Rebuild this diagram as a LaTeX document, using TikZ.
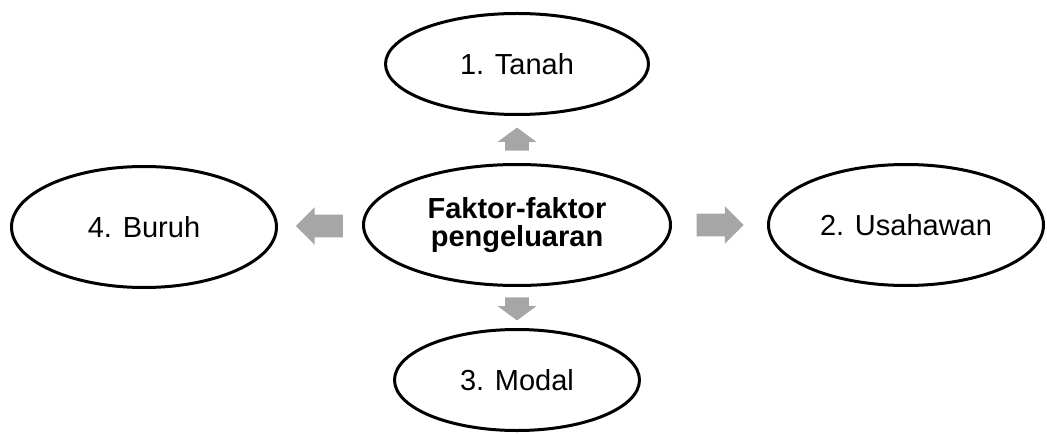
\documentclass[tikz,border=0pt]{standalone}
\usepackage{fontspec}
\setmainfont{Liberation Sans}
\usetikzlibrary{calc,positioning,shapes.geometric,shapes.arrows}

\begin{document}
\begin{tikzpicture}[x=0.5pt,y=0.5pt,
    factor/.style={draw,ellipse,line width=1.5pt,inner sep=0pt,align=center,font=\fontsize{14.5pt}{14pt}\selectfont},
    flow/.style={single arrow,fill=gray!70,draw=none,inner xsep=0pt,inner ysep=5.5pt,single arrow head extend=3.75pt}]
    \useasboundingbox (0,0) rectangle (1047,434);
    \node[factor,minimum width=153.5pt,minimum height=60.5pt,font=\fontsize{14.5pt}{14pt}\selectfont\bfseries] (pusat) at (517,209) {Faktor-faktor\\pengeluaran};
    \node[factor,minimum width=131.5pt,minimum height=50.5pt] (tanah) at (517,370) {1. Tanah};
    \node[factor,minimum width=137.5pt,minimum height=60.5pt] (usahawan) at (906,209) {2. Usahawan};
    \node[factor,minimum width=122.5pt,minimum height=50.5pt] (modal) at (517,54) {3. Modal};
    \node[factor,minimum width=132.5pt,minimum height=60.5pt] (buruh) at (144,207) {4. Buruh};
    %anak panah
    \node[flow,minimum height=11.5pt,inner ysep=5.75pt,single arrow tip angle=107,rotate=90] (p1) at ($(pusat.north)!0.5!(tanah.south)+(0,-4)$) {};
    \node[flow,minimum height=23.5pt] (p2) at ($(pusat.east)!0.5!(usahawan.west)+(-5,0)$) {};
    \node[flow,minimum height=11.5pt,inner ysep=5.75pt,single arrow tip angle=107,rotate=-90] (p3) at ($(pusat.south)!0.5!(modal.north)+(0,3)$) {};
    \node[flow,minimum height=23.5pt,rotate=180] (p4) at ($(pusat.west)!0.5!(buruh.east)+(5,0)$) {};
\end{tikzpicture}
\end{document}
